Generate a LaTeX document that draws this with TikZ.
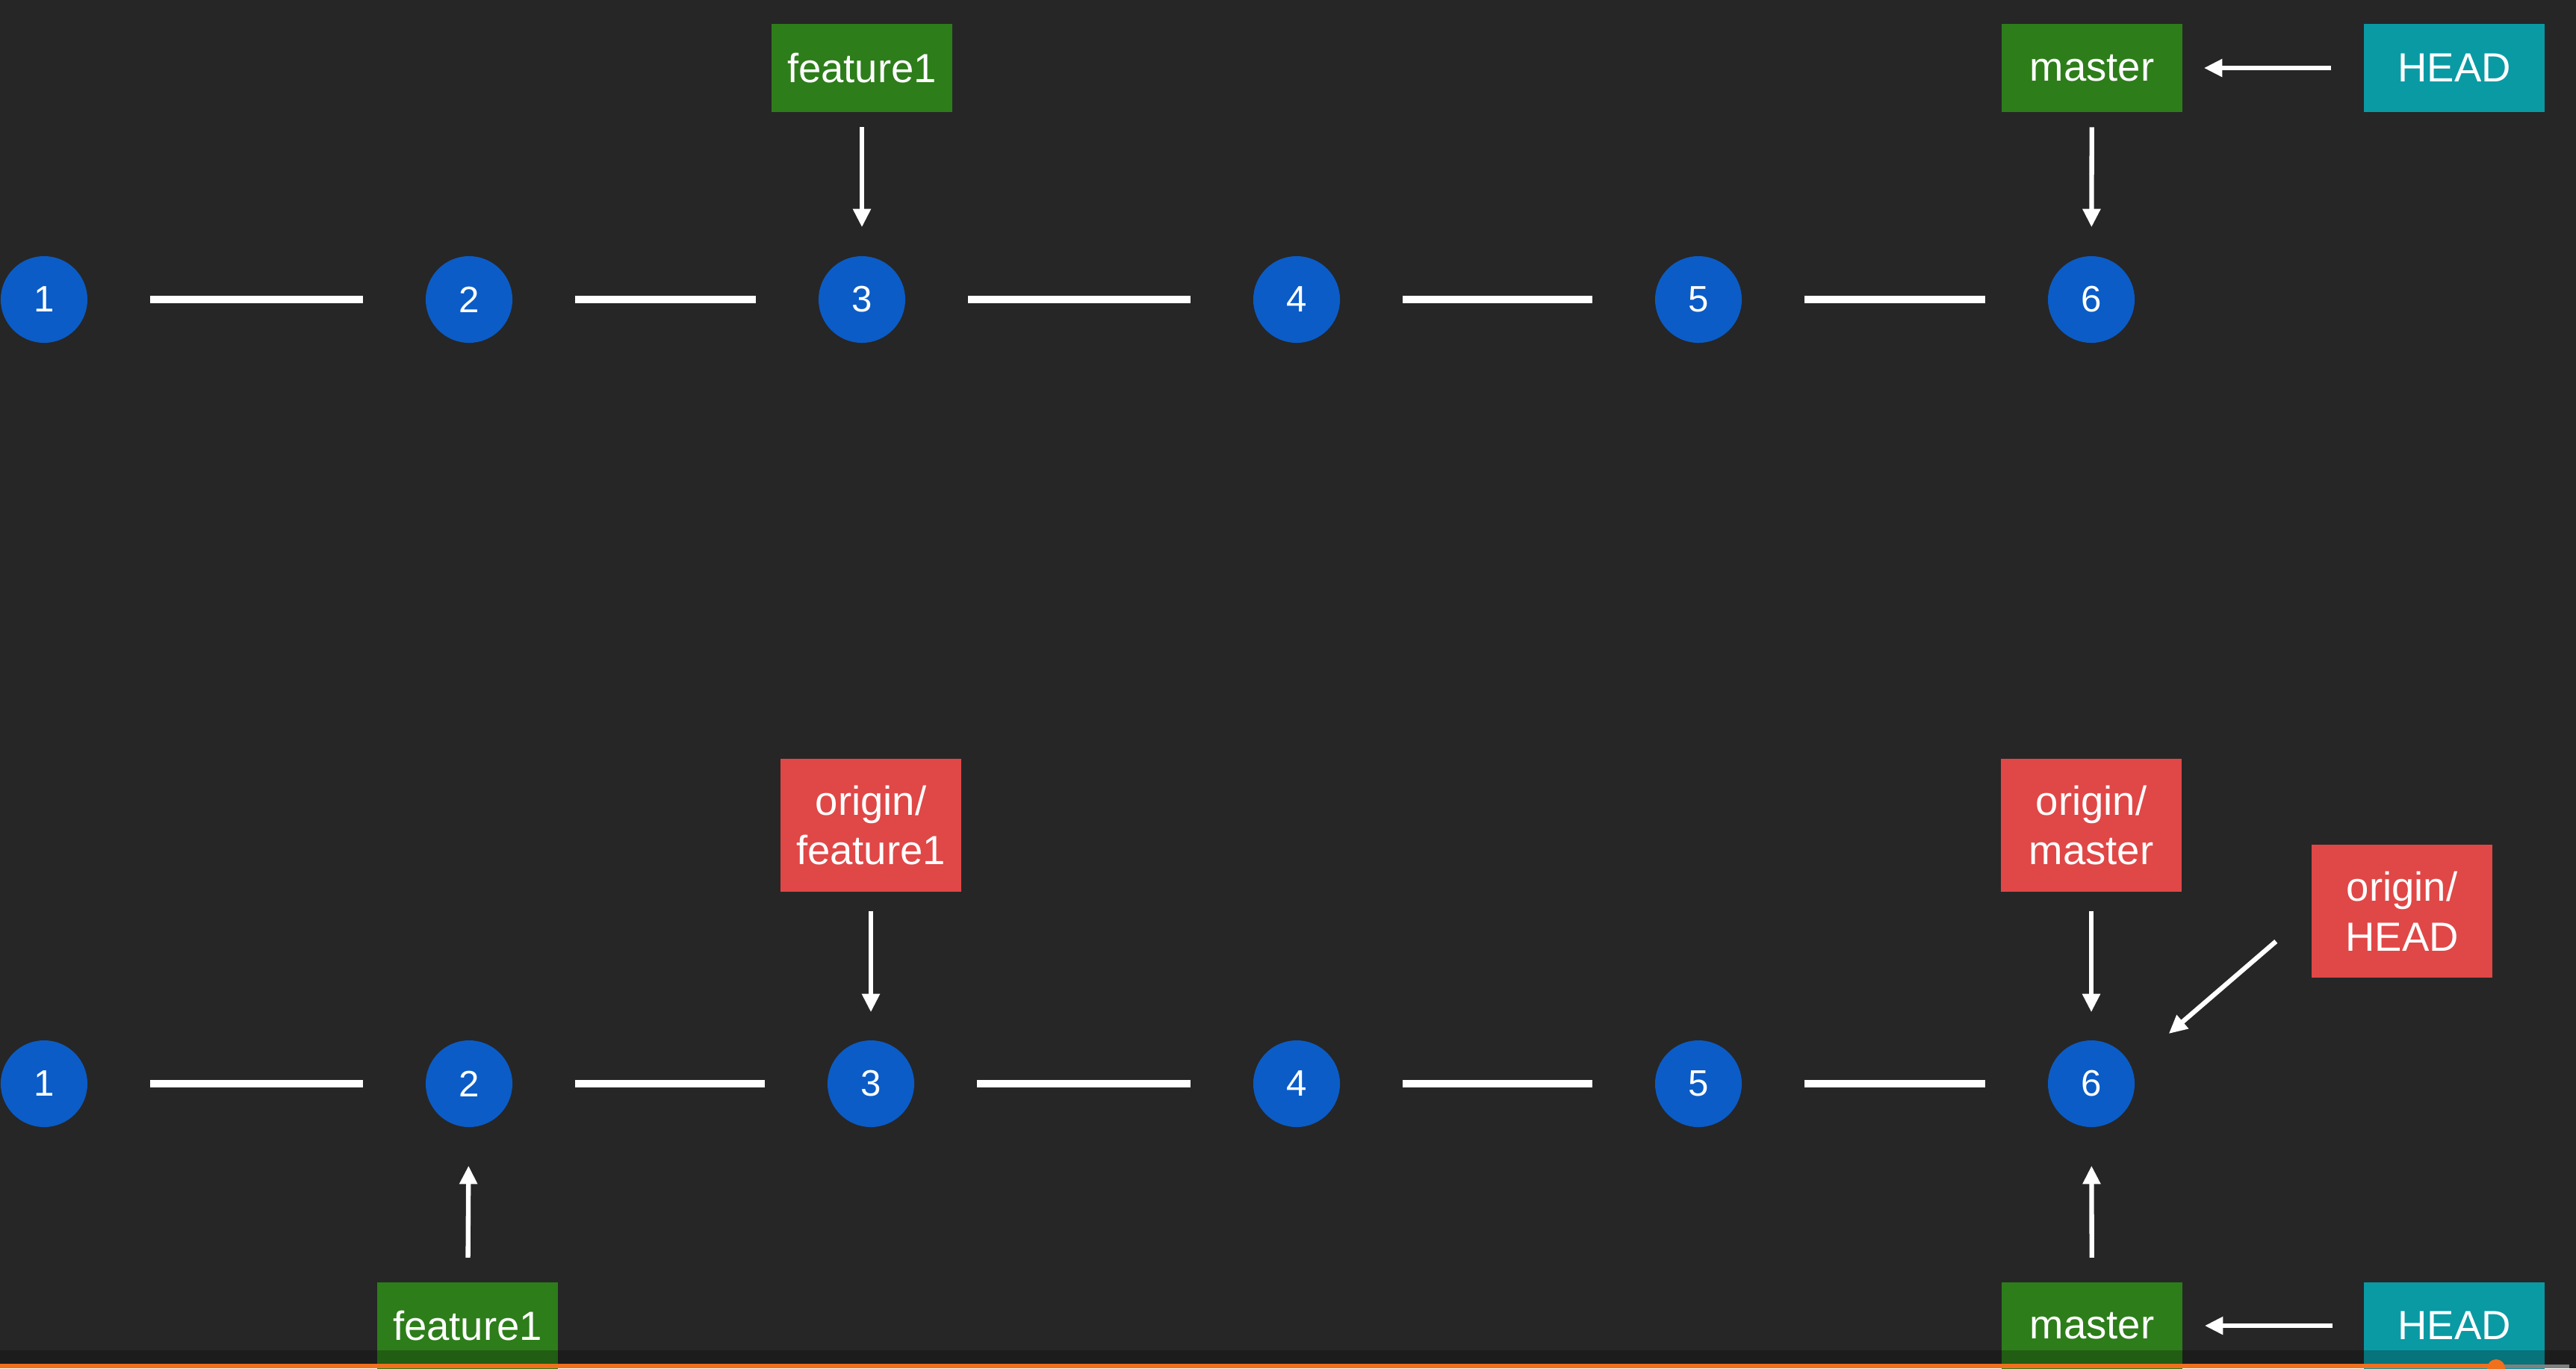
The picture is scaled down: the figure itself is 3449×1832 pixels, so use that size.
\documentclass[tikz,border=0pt]{standalone}
\usepackage{fontspec}
\setmainfont{Liberation Sans}
\usepackage{tikz}
\usetikzlibrary{arrows.meta}
\definecolor{bg}{HTML}{262626}
\definecolor{cblue}{HTML}{0B5CC6}
\definecolor{cgreen}{HTML}{2D7D1A}
\definecolor{cteal}{HTML}{0A9AA4}
\definecolor{cred}{HTML}{E04747}
\definecolor{corange}{HTML}{F0701E}

\begin{document}
\begin{tikzpicture}[x=0.01cm, y=-0.01cm,
  commit/.style={circle, fill=cblue, text=white, minimum size=1.16cm, inner sep=0pt, font=\fontsize{14}{17}\selectfont},
  branch/.style={fill=cgreen, text=white, minimum width=2.42cm, minimum height=1.17cm, inner sep=0pt, font=\fontsize{15.5}{19}\selectfont},
  headbox/.style={branch, fill=cteal},
  remote/.style={fill=cred, text=white, align=center, minimum width=2.42cm, minimum height=1.78cm, inner sep=0pt, font=\fontsize{15.5}{19}\selectfont},
  edge/.style={white, line width=2.6pt, shorten <=0.83cm, shorten >=0.83cm},
  ptr/.style={white, line width=1.8pt, -{Triangle[length=7pt,width=6.5pt]}}]
  \useasboundingbox (0,0) rectangle (3449,1832);
  \fill[bg] (0,0) rectangle (3449,1832);

  % 上のリポジトリ
  \foreach \i/\x in {1/59, 2/628, 3/1154, 4/1736, 5/2274, 6/2800} {
    \node[commit] (r\i) at (\x,401) {\i};
  }
  \foreach \i [evaluate=\i as \j using int(\i+1)] in {1,...,5} {
    \draw[edge] (r\i) -- (r\j);
  }
  \node[branch] (rf) at (1154,91) {feature1};
  \node[branch] (rm) at (2801,91) {master};
  \node[headbox] (rh) at (3286,91) {HEAD};
  \draw[ptr, shorten <=0.2cm, shorten >=0.38cm] (rf) -- (r3);
  \draw[ptr, shorten <=0.2cm, shorten >=0.38cm] (rm) -- (r6);
  \draw[ptr, shorten <=0.43cm, shorten >=0.28cm] (rh) -- (rm);

  % 下のリポジトリ (clone)
  \foreach \i/\x in {1/59, 2/628, 3/1166, 4/1736, 5/2274, 6/2800} {
    \node[commit] (l\i) at (\x,1451) {\i};
  }
  \foreach \i [evaluate=\i as \j using int(\i+1)] in {1,...,5} {
    \draw[edge] (l\i) -- (l\j);
  }
  \node[remote] (of) at (1166,1105) {origin/\\feature1};
  \node[remote] (om) at (2800,1105) {origin/\\master};
  \node[remote] (oh) at (3216,1220) {origin/\\HEAD};
  \node[branch] (lf) at (626,1775) {feature1};
  \node[branch] (lm) at (2801,1775) {master};
  \node[headbox] (lh) at (3286,1775) {HEAD};
  \draw[ptr, shorten <=0.25cm, shorten >=0.37cm] (of) -- (l3);
  \draw[ptr, shorten <=0.25cm, shorten >=0.37cm] (om) -- (l6);
  \draw[ptr, shorten <=0.62cm, shorten >=0.66cm] (oh.west) -- (l6.24);
  \draw[ptr, shorten <=0.32cm, shorten >=0.51cm] (lf) -- (l2);
  \draw[ptr, shorten <=0.32cm, shorten >=0.51cm] (lm) -- (l6);
  \draw[ptr, shorten <=0.41cm, shorten >=0.29cm] (lh) -- (lm);

  % 再生バー
  \fill[black, opacity=0.25] (0,1808) rectangle (3449,1832);
  \fill[corange] (0,1826) rectangle (3342,1832);
  \fill[gray] (3342,1827) rectangle (3440,1832);
  \fill[corange] (3342,1832) circle (12);
\end{tikzpicture}
\end{document}
